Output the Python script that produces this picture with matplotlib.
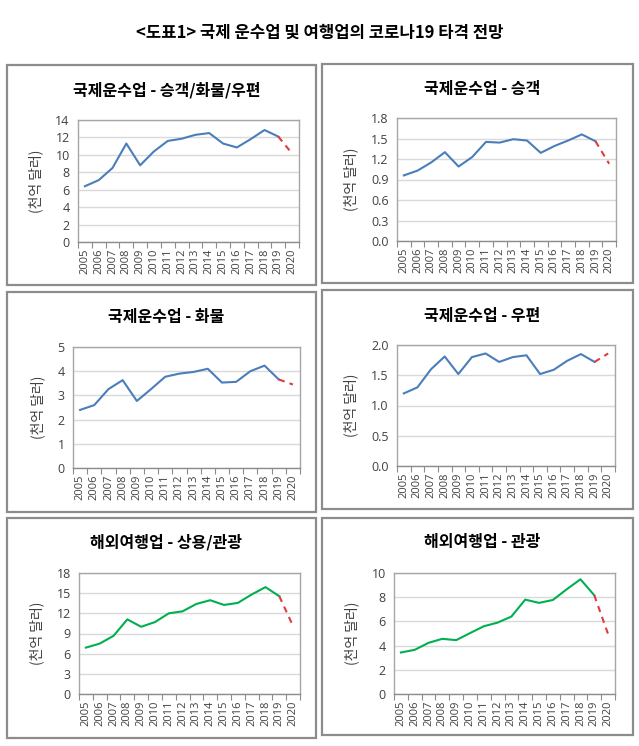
import matplotlib
matplotlib.use("Agg")
import matplotlib.pyplot as plt
from matplotlib.patches import Rectangle

plt.rcParams['font.family'] = ['Noto Sans CJK KR', 'DejaVu Sans']

years = [str(y) for y in range(2005, 2021)]

titles = [
    "국제운수업 - 승객/화물/우편",
    "국제운수업 - 승객",
    "국제운수업 - 화물",
    "국제운수업 - 우편",
    "해외여행업 - 상용/관광",
    "해외여행업 - 관광",
]

total_transport = [6.4, 7.1, 8.5, 11.3, 8.8, 10.4, 11.6, 11.85, 12.3, 12.5, 11.3, 10.85, 11.8, 12.85, 12.1, 10.15]
passenger = [0.96, 1.03, 1.15, 1.30, 1.09, 1.23, 1.45, 1.44, 1.49, 1.47, 1.29, 1.39, 1.47, 1.56, 1.46, 1.13]
freight = [2.4, 2.6, 3.26, 3.63, 2.77, 3.26, 3.77, 3.9, 3.97, 4.1, 3.53, 3.56, 4.0, 4.23, 3.66, 3.45]
postal = [1.20, 1.30, 1.60, 1.81, 1.52, 1.80, 1.86, 1.72, 1.80, 1.83, 1.52, 1.59, 1.74, 1.85, 1.72, 1.86]
travel_total = [6.9, 7.5, 8.65, 11.1, 10.0, 10.7, 12.0, 12.3, 13.4, 13.95, 13.25, 13.55, 14.8, 15.9, 14.55, 10.1]
travel_leisure = [3.43, 3.65, 4.23, 4.56, 4.45, 5.03, 5.6, 5.9, 6.4, 7.8, 7.53, 7.77, 8.65, 9.48, 8.16, 4.95]

series = [total_transport, passenger, freight, postal, travel_total, travel_leisure]
yticks = [
    [0, 2, 4, 6, 8, 10, 12, 14],
    [0.0, 0.3, 0.6, 0.9, 1.2, 1.5, 1.8],
    [0, 1, 2, 3, 4, 5],
    [0.0, 0.5, 1.0, 1.5, 2.0],
    [0, 3, 6, 9, 12, 15, 18],
    [0, 2, 4, 6, 8, 10],
]
yfmt = ["{:.0f}", "{:.1f}", "{:.0f}", "{:.1f}", "{:.0f}", "{:.0f}"]
colors = ["#4a7ebb", "#4a7ebb", "#4a7ebb", "#4a7ebb", "#00b050", "#00b050"]

main_title = "<도표1> 국제 운수업 및 여행업의 코로나19 타격 전망"
ylabel = "(천억 달러)"

W, H = 639, 746
fig = plt.figure(figsize=(W / 100, H / 100), dpi=100)

boxes = [
    (7, 65, 316, 285), (322, 64, 633, 283),
    (7, 292, 316, 512), (322, 290, 633, 509),
    (7, 518, 316, 738), (322, 518, 633, 735),
]
areas = [
    (78, 120, 299, 242), (397, 118, 616, 241),
    (73, 347, 300, 468), (397, 345, 615, 466),
    (79, 573, 300, 694), (394, 573, 615, 694),
]
title_y = [90, 89, 317, 316, 542, 542]
tickfont = ['Open Sans', 'DejaVu Sans']

fig.text(320 / W, 1 - 33 / H, main_title, ha='center', va='center',
         fontsize=12, fontweight='bold')

for i in range(6):
    bx0, by0, bx1, by1 = boxes[i]
    fig.patches.append(Rectangle((bx0 / W, 1 - by1 / H), (bx1 - bx0) / W, (by1 - by0) / H,
                                 transform=fig.transFigure, fill=False,
                                 edgecolor='#8c8c8c', linewidth=1.6))
    ax0, ay0, ax1, ay1 = areas[i]
    ax = fig.add_axes([ax0 / W, 1 - ay1 / H, (ax1 - ax0) / W, (ay1 - ay0) / H])
    data = series[i]
    x = list(range(len(years)))
    ax.plot(x[:15], data[:15], color=colors[i], linewidth=1.5, zorder=3)
    ax.plot(x[14:], data[14:], color='#e03c3c', linewidth=1.5,
            linestyle=(0, (3, 2.5)), zorder=3)
    ax.set_xlim(-0.5, len(years) - 0.5)
    yt = yticks[i]
    ax.set_ylim(yt[0], yt[-1])
    ax.set_yticks(yt)
    ax.set_yticklabels([yfmt[i].format(v) for v in yt], fontsize=9, color='#404040',
                       family=tickfont)
    ax.tick_params(axis='y', length=0, pad=6)
    ax.set_xticks(x)
    ax.set_xticklabels(years, rotation=90, fontsize=8, color='#404040', family=tickfont)
    ax.set_xticks([v - 0.5 for v in range(len(years) + 1)], minor=True)
    ax.tick_params(axis='x', which='major', length=0, pad=5)
    ax.tick_params(axis='x', which='minor', length=4, color='#8c8c8c', width=0.8)
    ax.grid(axis='y', color='#d9d9d9', linewidth=1)
    ax.set_axisbelow(True)
    for s in ax.spines.values():
        s.set_color('#a6a6a6')
        s.set_linewidth(1)
    ax.spines['bottom'].set_color('#8c8c8c')
    ax.set_ylabel(ylabel, fontsize=10, color='#404040', labelpad=9)
    cx = (bx0 + bx1) / 2 + 5
    fig.text(cx / W, 1 - title_y[i] / H, titles[i], ha='center', va='center',
             fontsize=11.5, fontweight='bold')

fig.savefig("out.png", dpi=100)
